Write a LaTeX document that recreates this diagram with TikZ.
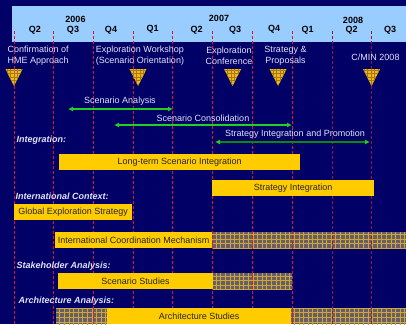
\documentclass[tikz,border=0pt]{standalone}
\usepackage{fontspec}
\setmainfont{Liberation Sans}
\usetikzlibrary{patterns,arrows.meta}

\definecolor{navy}{HTML}{000066}
\definecolor{hdrblue}{HTML}{99CCFF}
\definecolor{bargold}{HTML}{FFCC00}
\definecolor{gridred}{HTML}{E8102A}
\definecolor{gridmaroon}{HTML}{A0103A}
\definecolor{lavtext}{HTML}{E2E2FA}
\definecolor{plaidbase}{HTML}{6A5E66}
\definecolor{plaidline}{HTML}{CCA83A}
\definecolor{spangreen}{HTML}{22D022}
\definecolor{spandark}{HTML}{0A8A0A}
\definecolor{trigold}{HTML}{F0B810}
\definecolor{trigrid}{HTML}{A87818}

% checked part of a bar
\newcommand\plaid[4]{%
  \fill[plaidbase] (#1,#2) rectangle (#3,#4);
  \begin{scope}
    \clip (#1,#2) rectangle (#3,#4);
    \draw[plaidline, line width=0.8pt, step=4.6pt] (#1-5,#2-5) grid (#3+5,#4+5);
  \end{scope}}
% milestone marker
\newcommand\msmark[1]{%
  \fill[trigold] (#1-8.5,69) -- (#1+8.5,69) -- (#1,86) -- cycle;
  \begin{scope}
    \clip (#1-8.5,69) -- (#1+8.5,69) -- (#1,86) -- cycle;
    \draw[trigrid, line width=0.6pt, step=3.5pt] (#1-12,65) grid (#1+12,90);
  \end{scope}}

\begin{document}
\begin{tikzpicture}[x=1pt,y=-1pt]
\tikzstyle{every node}+=[inner sep=0pt, font=\fontsize{9}{11}\selectfont]
\tikzstyle{qtr}=[font=\fontsize{9}{11}\selectfont\bfseries, text=black]
\tikzstyle{mstext}=[text=lavtext]
\tikzstyle{secname}=[anchor=west, text=lavtext, font=\fontsize{9}{11}\selectfont\bfseries\itshape]
\tikzstyle{bar}=[fill=bargold, text=black!85, anchor=north west, minimum height=16pt]
\tikzstyle{qline}=[draw=gridred, line width=0.9pt, dash pattern=on 3pt off 2pt]
\tikzstyle{span}=[draw=spangreen, line width=1.3pt, {Latex[length=5pt,width=5pt]}-{Latex[length=5pt,width=5pt]}]
\useasboundingbox (0,0) rectangle (406,324);
\fill[navy] (0,0) rectangle (406,324);
\fill[hdrblue] (12,6) rectangle (406,41.5);

% checked (later) parts of the work streams
\plaid{212}{232}{406}{248}
\plaid{212.6}{273}{292}{289}
\plaid{56}{308}{107}{324}
\plaid{291}{308}{406}{324}

% quarter grid
\draw[qline] (14,31) -- (14,324);
\draw[qline] (53.5,31) -- (53.5,324);
\draw[qline] (93.3,31) -- (93.3,324);
\draw[qline] (133.3,31) -- (133.3,324);
\draw[qline] (172.8,31) -- (172.8,324);
\draw[qline] (212.6,31) -- (212.6,324);
\draw[qline] (252.3,31) -- (252.3,324);
\draw[qline] (292.3,31) -- (292.3,324);
\draw[qline, draw=gridmaroon] (332,31) -- (332,324);
\draw[qline, draw=gridmaroon] (371.7,31) -- (371.7,324);

% header
\node[qtr] (y2006) at (75.5,19.5) {2006};
\node[qtr] (y2007) at (219,18.5) {2007};
\node[qtr] (y2008) at (353,20) {2008};
\node[qtr] (q1) at (35,30) {Q2};
\node[qtr] (q2) at (73,30) {Q3};
\node[qtr] (q3) at (111,30) {Q4};
\node[qtr] (q4) at (152.7,29.5) {Q1};
\node[qtr] (q5) at (196.7,30) {Q2};
\node[qtr] (q6) at (235,30) {Q3};
\node[qtr] (q7) at (274,29.5) {Q4};
\node[qtr] (q8) at (307.7,30.5) {Q1};
\node[qtr] (q9) at (351.7,30) {Q2};
\node[qtr] (q10) at (390,30.5) {Q3};

% milestones
\node[mstext, align=left, anchor=west] (hme) at (7.5,55.5) {Confirmation of\\HME Approach};
\node[mstext, align=left] (wkshop) at (140,55.5) {Exploration Workshop\\(Scenario Orientation)};
\node[mstext, align=center] (conf) at (229,55.5) {Exploration\\Conference};
\node[mstext, align=center] (props) at (285.5,55.5) {Strategy \&\\Proposals};
\node[mstext] (cmin) at (375.5,57.5) {C/MIN 2008};
\msmark{14}
\msmark{138}
\msmark{232.5}
\msmark{278}
\msmark{371.5}

% activities
\coordinate (saL) at (68,109);
\coordinate (saR) at (173,109);
\draw[span] (saL) -- (saR);
\node[mstext] (sa) at (120,101.5) {Scenario Analysis};
\coordinate (scL) at (114,125);
\coordinate (scR) at (292,125);
\draw[span] (scL) -- (scR);
\node[mstext] (sc) at (203,118.5) {Scenario Consolidation};
\coordinate (sipL) at (215,142);
\coordinate (sipR) at (370,142);
\draw[span, draw=spandark, {Latex[length=5pt,width=5pt,color=spangreen]}-{Latex[length=5pt,width=5pt,color=spangreen]}] (sipL) -- (sipR);
\node[mstext] (sip) at (295,134.5) {Strategy Integration and Promotion};

% work streams
\node[secname] (integ) at (16.5,140) {Integration:};
\node[bar, minimum width=241pt] (ltsi) at (59,154) {Long-term Scenario Integration};
\node[bar, minimum width=162pt] (strint) at (212,180) {Strategy Integration};

\node[secname] (intctx) at (15.5,196) {International Context:};
\node[bar, minimum width=118pt] (ges) at (14,204) {Global Exploration Strategy};
\node[bar, minimum width=157pt] (icm) at (55,232) {International Coordination Mechanism};

\node[secname] (stake) at (16.5,266.5) {Stakeholder Analysis:};
\node[bar, minimum width=154.6pt] (scst) at (58,273) {Scenario Studies};

\node[secname] (arch) at (18.5,301) {Architecture Analysis:};
\node[bar, minimum width=184pt] (arst) at (107,308) {Architecture Studies};
\end{tikzpicture}
\end{document}
